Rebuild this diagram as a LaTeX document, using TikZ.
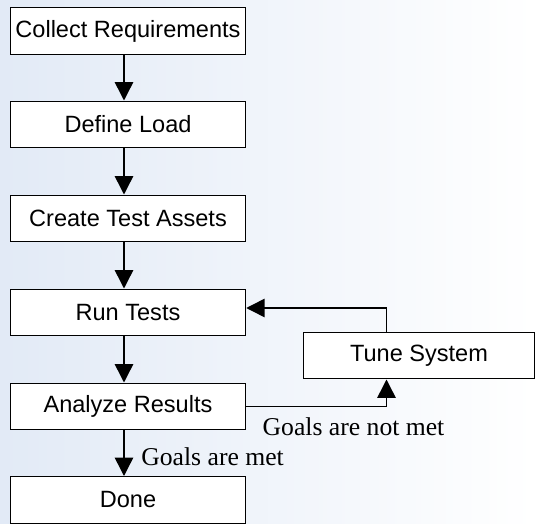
\documentclass[tikz,border=0pt]{standalone}
\usepackage{fontspec}
\setmainfont{Liberation Serif}
\setsansfont{Liberation Sans}
\usepackage{tikz}
\usetikzlibrary{arrows.meta}
\usetikzlibrary{calc}
\definecolor{bgblue}{RGB}{226,234,246}

\begin{document}
\begin{tikzpicture}
\tikzset{stage/.style={draw, fill=white, line width=0.85pt, minimum width=4.7cm, minimum height=0.93cm, inner sep=0pt, font=\sffamily\fontsize{13.4}{16}\selectfont}}
\tikzset{remark/.style={inner sep=0pt, font=\fontsize{14.6}{17}\selectfont}}
\tikzstyle{pointer} = [line width=0.85pt, -{Triangle[length=10.5pt,width=10.5pt]}]

\shade [left color=bgblue, right color=white] (0,0) rectangle (10.7,-10.48);
\useasboundingbox (0,0) rectangle (10.7,-10.48);

\node[stage] (req) at (2.56,-0.62) {Collect Requirements};
\node[stage] (load) at (2.56,-2.49) {Define Load};
\node[stage] (assets) at (2.56,-4.37) {Create Test Assets};
\node[stage] (run) at (2.56,-6.25) {Run Tests};
\node[stage] (analyze) at (2.56,-8.13) {Analyze Results};
\node[stage] (done) at (2.56,-10.0) {Done};
\node[stage, minimum width=4.62cm] (tune) at (8.38,-7.11) {Tune System};

\coordinate (spine) at (2.48,0);
\coordinate (bend) at (7.73,-6.16);

\draw [pointer] (req.south -| spine) -- (load.north -| spine);
\draw [pointer] (load.south -| spine) -- (assets.north -| spine);
\draw [pointer] (assets.south -| spine) -- (run.north -| spine);
\draw [pointer] (run.south -| spine) -- (analyze.north -| spine);
\draw [pointer] (analyze.south -| spine) -- (done.north -| spine);
\draw [pointer] (tune.north -| bend) |- (run.east |- bend);
\draw [pointer] (analyze.east) -| (tune.south -| bend);

\node[remark, anchor=base] (notmet) at (7.07,-8.71) {Goals are not met};
\node[remark, anchor=base west] (met) at (2.82,-9.31) {Goals are met};
\end{tikzpicture}
\end{document}
